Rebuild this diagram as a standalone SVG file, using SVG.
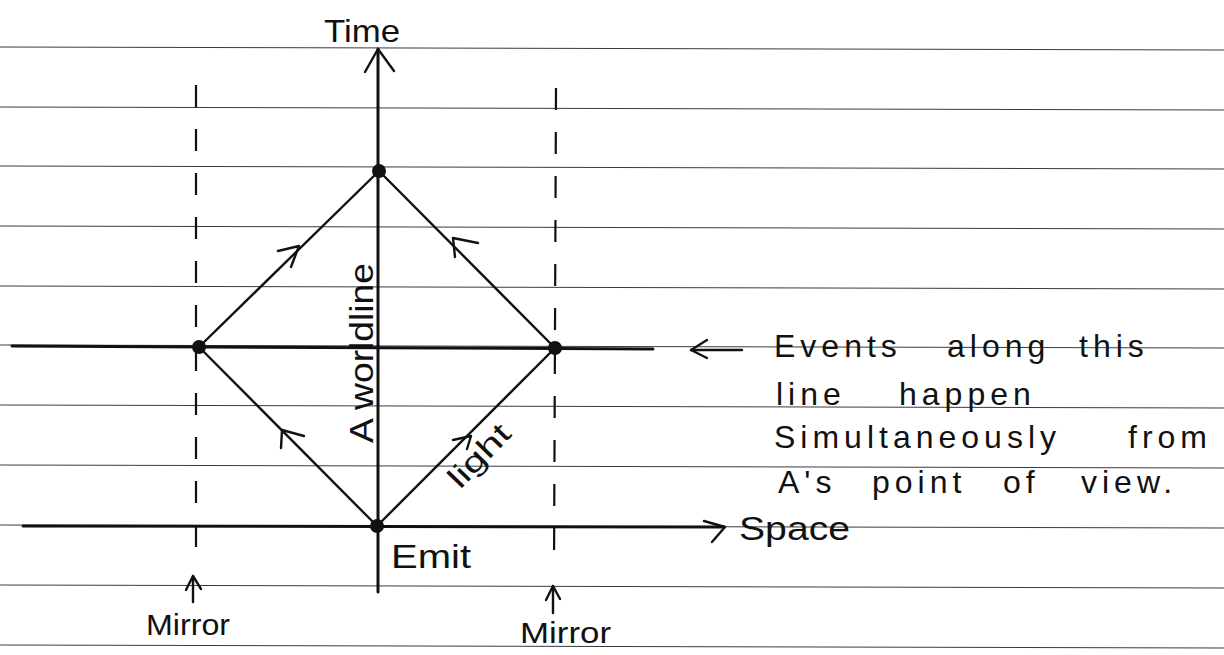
<svg xmlns="http://www.w3.org/2000/svg" width="1224" height="655" viewBox="0 0 1224 655">
<style>
.rule{stroke:#3a3a3a;stroke-width:1;fill:none}
.axis{stroke:#111;stroke-width:3;fill:none;stroke-linecap:round}
.ray{stroke:#111;stroke-width:2.4;fill:none;stroke-linecap:round}
.head{stroke:#111;stroke-width:2.4;fill:none;stroke-linecap:round;stroke-linejoin:round}
.mirror{stroke:#111;stroke-width:2.2;stroke-dasharray:22 22;fill:none}
.dot{fill:#111}
.hand{font-family:"Liberation Sans","DejaVu Sans",sans-serif;fill:#111}
.note{font-family:"Liberation Sans","DejaVu Sans",sans-serif;fill:#111;font-size:32px;letter-spacing:5px}
</style>
<rect width="1224" height="655" fill="#ffffff"/>
<g id="ruled-lines">
<line class="rule" x1="0" y1="47" x2="1224" y2="50"/>
<line class="rule" x1="0" y1="107" x2="1224" y2="110"/>
<line class="rule" x1="0" y1="166" x2="1224" y2="169"/>
<line class="rule" x1="0" y1="226" x2="1224" y2="229"/>
<line class="rule" x1="0" y1="286" x2="1224" y2="289"/>
<line class="rule" x1="0" y1="345" x2="1224" y2="348"/>
<line class="rule" x1="0" y1="405" x2="1224" y2="408"/>
<line class="rule" x1="0" y1="465" x2="1224" y2="468"/>
<line class="rule" x1="0" y1="525" x2="1224" y2="528"/>
<line class="rule" x1="0" y1="585" x2="1224" y2="588"/>
<line class="rule" x1="0" y1="645" x2="1224" y2="648"/>
</g>
<g id="connectors">
<line class="axis" x1="378" y1="49" x2="378" y2="592"/>
<polyline class="head" points="365,72 378,49 394,71"/>
<line class="axis" x1="12" y1="346" x2="653" y2="349"/>
<line class="axis" x1="23" y1="526" x2="724" y2="527"/>
<polyline class="head" points="704,521 725,527 712,542"/>
<line class="mirror" x1="196" y1="85" x2="196" y2="562"/>
<line class="mirror" x1="556" y1="88" x2="554" y2="570"/>
<line class="ray" x1="199" y1="347" x2="379" y2="171"/>
<line class="ray" x1="379" y1="171" x2="555" y2="348"/>
<line class="ray" x1="199" y1="347" x2="377" y2="526"/>
<line class="ray" x1="377" y1="526" x2="555" y2="348"/>
<polyline class="head" points="278,251 299,246 291,267"/>
<polyline class="head" points="478,243 453,238 455,257"/>
<polyline class="head" points="304,436 282,430 281,448"/>
<polyline class="head" points="453,440 471,436 467,449"/>
<line class="head" x1="691" y1="350" x2="742" y2="350"/>
<polyline class="head" points="707,340 691,350 707,358"/>
<line class="head" x1="193" y1="576" x2="193" y2="602"/>
<polyline class="head" points="186,590 193,576 201,589"/>
<line class="head" x1="553" y1="586" x2="553" y2="613"/>
<polyline class="head" points="546,600 553,586 560,599"/>
</g>
<g id="event-top"><circle class="dot" cx="379" cy="171" r="7"/></g>
<g id="event-left"><circle class="dot" cx="199" cy="347" r="7"/></g>
<g id="event-right"><circle class="dot" cx="555" cy="348" r="7"/></g>
<g id="event-emit"><circle class="dot" cx="377" cy="526" r="7"/>
<text class="hand" x="391" y="568" font-size="34" textLength="80" lengthAdjust="spacingAndGlyphs">Emit</text></g>
<g id="label-time"><text class="hand" x="324" y="42" font-size="32" textLength="76" lengthAdjust="spacingAndGlyphs">Time</text></g>
<g id="label-space"><text class="hand" x="739" y="540" font-size="33" textLength="111" lengthAdjust="spacingAndGlyphs">Space</text></g>
<g id="label-worldline"><text class="hand" transform="translate(373,443) rotate(-90)" x="0" y="0" font-size="34" textLength="180" lengthAdjust="spacingAndGlyphs">A worldline</text></g>
<g id="label-light"><text class="hand" transform="translate(460,490) rotate(-46)" x="0" y="0" font-size="30" textLength="76" lengthAdjust="spacingAndGlyphs">light</text></g>
<g id="label-mirror-left"><text class="hand" x="146" y="635" font-size="30" textLength="84" lengthAdjust="spacingAndGlyphs">Mirror</text></g>
<g id="label-mirror-right"><text class="hand" x="520" y="643" font-size="30" textLength="91" lengthAdjust="spacingAndGlyphs">Mirror</text></g>
<g id="label-simultaneity">
<text class="note" y="357"><tspan x="774">Events</tspan> <tspan x="947">along</tspan> <tspan x="1079">this</tspan></text>
<text class="note" y="405"><tspan x="776">line</tspan> <tspan x="899">happen</tspan></text>
<text class="note" y="448"><tspan x="774">Simultaneously</tspan> <tspan x="1128">from</tspan></text>
<text class="note" y="493"><tspan x="778">A's</tspan> <tspan x="872">point</tspan> <tspan x="1003">of</tspan> <tspan x="1081">view.</tspan></text>
</g>
</svg>
